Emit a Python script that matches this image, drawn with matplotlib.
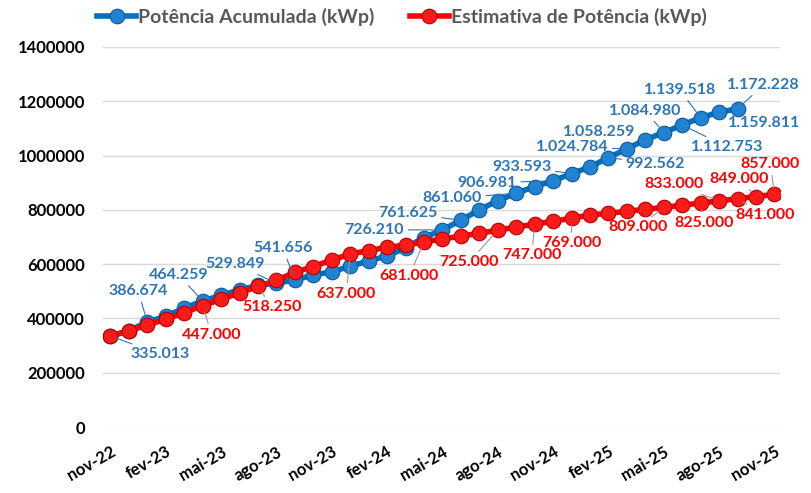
import numpy as np
import matplotlib
matplotlib.use('Agg')
from matplotlib import pyplot as plt

plt.rcParams['font.family'] = ['Lato', 'DejaVu Sans']

# monthly, nov-22 .. nov-25
months = ['nov-22', 'dez-22', 'jan-23', 'fev-23', 'mar-23', 'abr-23', 'mai-23', 'jun-23',
          'jul-23', 'ago-23', 'set-23', 'out-23', 'nov-23', 'dez-23', 'jan-24', 'fev-24',
          'mar-24', 'abr-24', 'mai-24', 'jun-24', 'jul-24', 'ago-24', 'set-24', 'out-24',
          'nov-24', 'dez-24', 'jan-25', 'fev-25', 'mar-25', 'abr-25', 'mai-25', 'jun-25',
          'jul-25', 'ago-25', 'set-25', 'out-25', 'nov-25']

acumulada = [335013, 355000, 386674, 408000, 438000, 464259, 485000, 505000, 522000,
             529849, 541656, 560000, 572000, 592000, 612000, 630000, 660000, 698000,
             726210, 761625, 800000, 834000, 861060, 886000, 906981, 933593, 958000,
             992562, 1024784, 1058259, 1084980, 1112753, 1139518, 1159811, 1172228]

estimativa = [335000, 354000, 376000, 397000, 421000, 447000, 470000, 494000, 518250,
              540000, 570000, 591000, 615000, 637000, 650000, 662000, 670000, 681000,
              693000, 703000, 714000, 725000, 737000, 747000, 758000, 769000, 781000,
              787000, 795000, 802000, 809000, 817000, 825000, 833000, 841000, 849000,
              857000]

# which points carry a data label, and where the label sits (pixel offset)
blue_lbl = {0: (50, -18), 2: (-9, 31), 5: (-24, 26), 9: (-41, 19), 10: (-12, 32),
            18: (-68, 0), 19: (-53, 7), 22: (-64, -5), 24: (-66, -2), 25: (-50, 7),
            27: (47, -6), 28: (-55, 2), 29: (-46, 8), 30: (-19, 22), 31: (45, -22),
            32: (-21, 28), 33: (45, -11), 34: (26, 24)}
red_lbl = {5: (9, -29), 8: (14, -21), 13: (-4, -40), 17: (-15, -34), 21: (-29, -32),
           23: (-3, -31), 25: (0, -25), 30: (-26, -20), 32: (3, -20), 33: (-45, 17),
           34: (27, -16), 35: (-17, 18), 36: (-4, 30)}

blue = '#0070C0'
blue_txt = '#2E75B6'
red = '#FF0000'

def fmt(v):
    return '{:,}'.format(v).replace(',', '.')

fig = plt.figure(figsize=(8.12, 4.93), dpi=100)
ax = fig.add_axes([103 / 812, 1 - 427 / 493, (780 - 103) / 812, (427 - 47) / 493])

x_a = np.arange(len(acumulada))
x_e = np.arange(len(estimativa))

ax.plot(x_a, acumulada, color=blue, lw=4, marker='o', ms=10.5,
        mfc='#1F82D2', mec='#0B5A9C', mew=0.8, label='Potência Acumulada (kWp)', zorder=3)
ax.plot(x_e, estimativa, color=red, lw=4, marker='o', ms=10.5,
        mfc='#FF1A1A', mec='#B00000', mew=0.8, label='Estimativa de Potência (kWp)', zorder=4)

for i, (dx, dy) in blue_lbl.items():
    ax.annotate(fmt(acumulada[i]), (x_a[i], acumulada[i]), xytext=(dx, dy),
                textcoords='offset pixels', ha='center', va='center',
                color=blue_txt, fontsize=11.5, fontweight='bold', zorder=6,
                arrowprops=dict(arrowstyle='-', color=blue_txt, lw=0.8,
                                shrinkA=1, shrinkB=5))
for i, (dx, dy) in red_lbl.items():
    ax.annotate(fmt(estimativa[i]), (x_e[i], estimativa[i]), xytext=(dx, dy),
                textcoords='offset pixels', ha='center', va='center',
                color=red, fontsize=11.5, fontweight='bold', zorder=6,
                arrowprops=dict(arrowstyle='-', color='#999999', lw=0.8,
                                shrinkA=1, shrinkB=5))

ax.set_xlim(-0.4, 36.3)
ax.set_ylim(0, 1400000)
ax.set_yticks(np.arange(0, 1400001, 200000))
ax.set_yticklabels([str(v) for v in range(0, 1400001, 200000)],
                   fontsize=12, fontweight='bold', color='black')
ax.set_xticks(x_e[::3])
ax.set_xticklabels(months[::3], rotation=30, ha='right', rotation_mode='anchor',
                   fontsize=12, fontweight='bold', color='black')
ax.tick_params(axis='y', length=0, pad=13)
ax.tick_params(axis='x', length=0, pad=12)
ax.grid(axis='y', color='#D9D9D9', lw=1)
ax.set_axisbelow(True)
for s in ax.spines.values():
    s.set_visible(False)

leg = fig.legend(loc='upper center', bbox_to_anchor=(0.495, 1.02), ncol=2, frameon=False,
                 handlelength=2.0, handletextpad=0.1, columnspacing=1.8,
                 labelcolor='#595959', prop={'weight': 'bold', 'size': 14})

fig.savefig('out.png', dpi=100)
